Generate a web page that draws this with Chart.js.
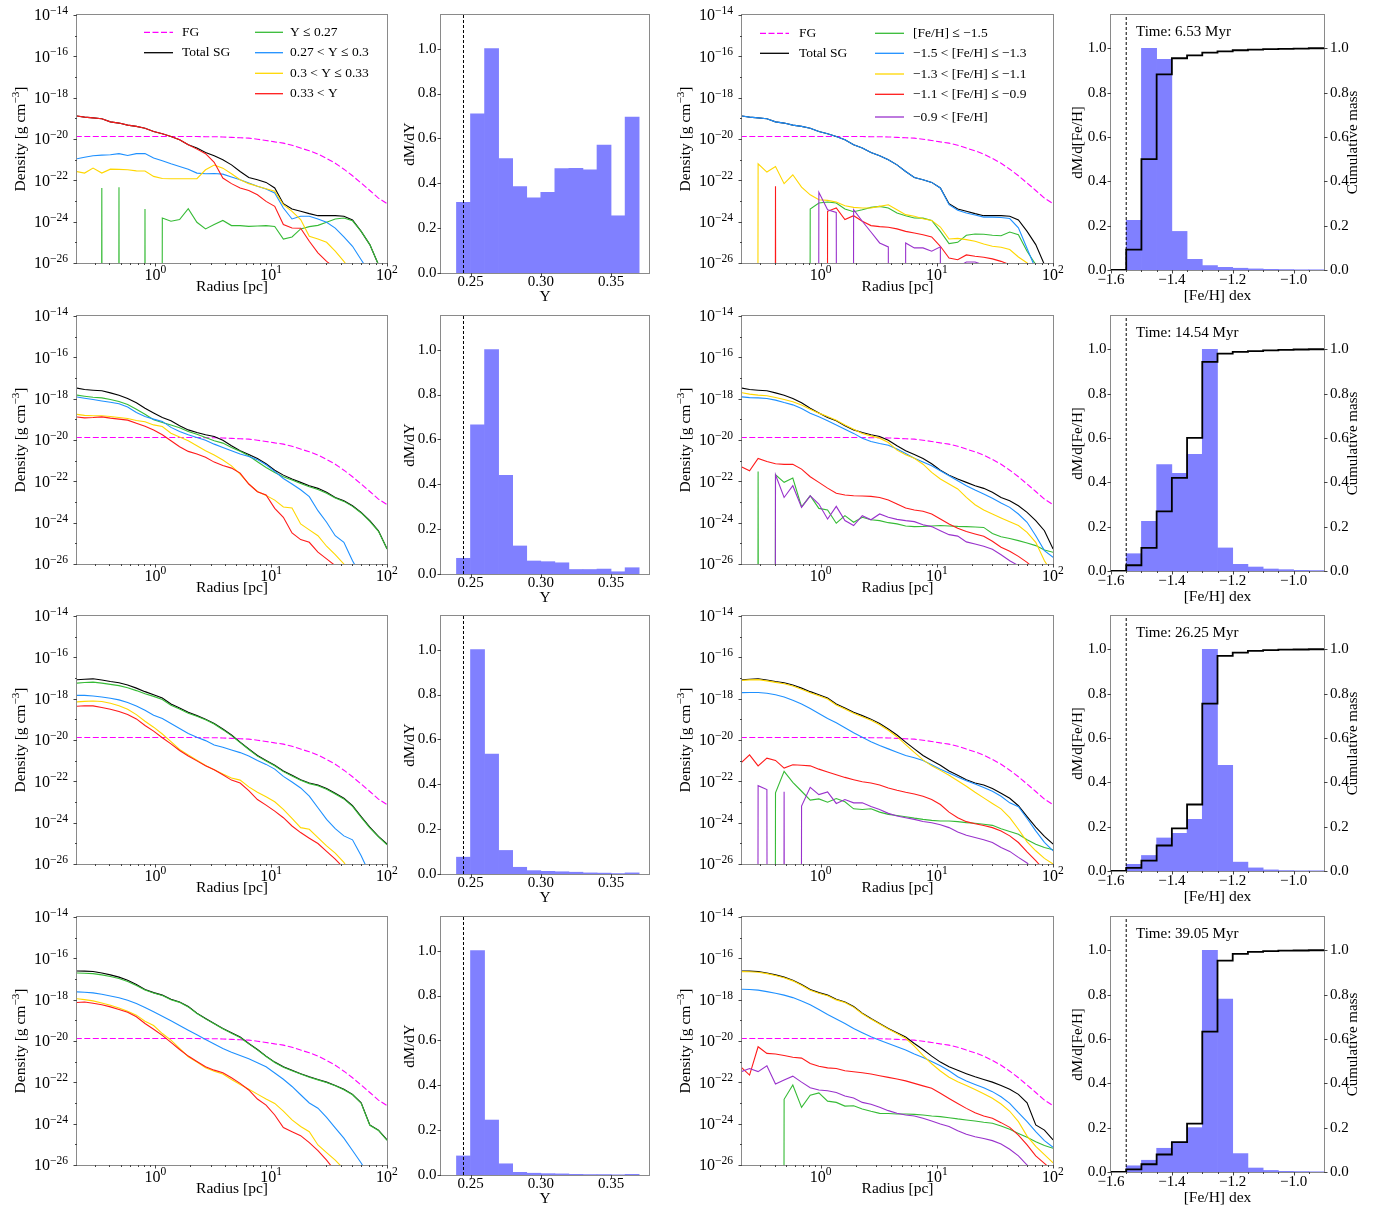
<!DOCTYPE html>
<html>
<head>
<meta charset="utf-8">
<title>Density profiles and abundance distributions</title>
<script src="https://cdn.jsdelivr.net/npm/chart.js@4.4.1/dist/chart.umd.min.js"></script>
<style>
html,body{margin:0;padding:0;background:#ffffff;}
body{position:relative;width:1384px;height:1209px;overflow:hidden;}
canvas{position:absolute;}
</style>
</head>
<body>
<script>
// ======================= DATA =======================
const TIMES = ['6.53', '14.54', '26.25', '39.05'];   // Myr, one per row

// radial bin centres [pc]
const R = [0.205,0.244,0.289,0.344,0.408,0.484,0.575,0.684,0.812,0.964,1.146,1.361,1.616,1.920,2.280,2.708,3.216,3.820,4.536,5.387,6.398,7.598,9.024,10.72,12.73,15.12,17.95,21.32,25.32,30.07,35.71,42.41,50.37,59.82,71.04,84.37,100.2];

// all density series are log10(rho / g cm^-3); null = empty bin (zero density)
const FG = [-19.88,-19.88,-19.88,-19.88,-19.88,-19.88,-19.88,-19.88,-19.88,-19.88,-19.88,-19.88,-19.88,-19.88,-19.88,-19.89,-19.89,-19.90,-19.92,-19.94,-19.96,-20.01,-20.07,-20.14,-20.20,-20.30,-20.44,-20.57,-20.73,-20.94,-21.17,-21.46,-21.78,-22.13,-22.49,-22.86,-23.13];

// ---- row 1 : 6.53 Myr
const TOT_1 = [-18.88,-18.94,-18.98,-19.02,-19.17,-19.23,-19.33,-19.39,-19.48,-19.64,-19.75,-19.88,-20.04,-20.28,-20.44,-20.65,-20.81,-21.00,-21.25,-21.57,-21.86,-21.97,-22.10,-22.37,-23.13,-23.39,-23.50,-23.61,-23.71,-23.71,-23.71,-23.74,-23.92,-24.47,-25.11,-26.08,-27.0];
const YA_1 = [null,null,null,-22.37,null,-22.33,null,null,-23.39,null,-23.82,-23.98,-23.90,-23.37,-24.03,-24.35,-24.14,-23.94,-24.19,-24.19,-24.23,-24.21,-24.19,-24.23,-24.84,-24.74,-24.35,-24.24,-24.18,-24.03,-23.87,-23.82,-23.96,-24.47,-25.11,-26.08,-27.0];
const YB_1 = [-20.97,-20.88,-20.81,-20.78,-20.76,-20.71,-20.80,-20.71,-20.70,-20.92,-21.05,-21.20,-21.33,-21.46,-21.65,-21.68,-21.67,-21.70,-21.84,-21.97,-22.13,-22.29,-22.42,-22.61,-23.34,-23.87,-23.74,-23.74,-23.87,-24.03,-24.31,-24.74,-25.19,-25.84,-26.5,-27.5,-28.0];
const YC_1 = [-21.57,-21.65,-21.41,-21.65,-21.46,-21.47,-21.49,-21.54,-21.55,-21.81,-21.91,-21.92,-21.92,-21.92,-21.92,-21.49,-21.26,-21.41,-21.68,-21.97,-22.16,-22.29,-22.41,-22.53,-23.18,-23.50,-23.90,-24.71,-24.84,-25.00,-25.43,-25.92,-26.5,-27.5,-28,-28,-28];
const YD_1 = [-18.88,-18.94,-18.98,-19.02,-19.17,-19.23,-19.33,-19.39,-19.48,-19.64,-19.75,-19.88,-20.04,-20.28,-20.49,-20.71,-21.13,-21.89,-22.16,-22.37,-22.49,-22.70,-23.02,-23.26,-24.14,-24.31,-24.32,-24.95,-25.51,-25.92,-26.24,-26.6,-27.0,-28,-28,-28,-28];
const FA_1 = [null,null,null,null,null,null,null,null,-23.39,-23.10,-23.05,-23.10,-23.39,-23.52,-23.42,-23.31,-23.26,-23.34,-23.58,-23.71,-23.82,-23.83,-23.94,-24.47,-25.06,-25.00,-24.66,-24.60,-24.61,-24.66,-24.68,-24.50,-24.63,-25.43,-26.08,-27.0,-28];
const FB_1 = [-18.88,-18.94,-18.98,-19.02,-19.17,-19.23,-19.33,-19.39,-19.48,-19.64,-19.75,-19.88,-20.04,-20.28,-20.44,-20.65,-20.81,-21.00,-21.25,-21.57,-21.86,-21.97,-22.10,-22.37,-23.18,-23.45,-23.58,-23.68,-23.78,-23.78,-23.80,-23.85,-24.30,-25.30,-26.30,-27.5,-28];
const FC_1 = [null,null,-21.20,-21.60,-21.33,-22.16,-21.73,-22.33,-22.70,-22.94,-22.97,-23.05,-23.23,-23.31,-23.34,-23.34,-23.26,-23.18,-23.42,-23.66,-23.74,-23.86,-23.94,-24.26,-24.84,-24.81,-24.87,-24.95,-25.08,-25.19,-25.24,-25.35,-25.71,-26.0,-26.8,-28,-28];
const FD_1 = [null,null,null,null,-22.29,null,null,null,null,null,-23.50,-23.34,-23.90,-23.71,-23.98,-24.19,-24.24,-24.27,-24.35,-24.47,-24.55,-24.63,-24.74,-25.19,-25.76,-25.84,-25.61,-25.67,-25.72,-25.80,-25.92,-26.08,-26.6,-28,-28,-28,-28];
const FE_1 = [null,null,null,null,null,null,null,null,null,-22.58,-23.42,-23.55,null,-23.42,-23.98,-24.50,-25.03,-25.22,null,-25.03,-25.27,-25.27,-25.43,-25.22,null,-26.2,-25.95,-25.95,-26.1,null,null,null,null,null,null,null,null];

// ---- row 2 : 14.54 Myr
const TOT_2 = [-17.48,-17.56,-17.59,-17.62,-17.72,-17.83,-17.99,-18.20,-18.46,-18.69,-18.91,-19.07,-19.31,-19.51,-19.64,-19.75,-19.83,-20.01,-20.28,-20.52,-20.70,-20.90,-21.15,-21.46,-21.70,-21.89,-22.05,-22.21,-22.34,-22.53,-22.78,-22.94,-23.18,-23.50,-23.90,-24.39,-25.27];
const YA_2 = [-17.82,-17.88,-17.93,-17.96,-18.04,-18.14,-18.28,-18.51,-18.75,-19.02,-19.15,-19.27,-19.41,-19.59,-19.72,-19.88,-20.04,-20.15,-20.36,-20.55,-20.76,-21.05,-21.33,-21.57,-21.78,-21.94,-22.10,-22.26,-22.39,-22.58,-22.81,-22.97,-23.21,-23.53,-23.94,-24.42,-25.27];
const YB_2 = [-17.91,-17.98,-18.04,-18.11,-18.17,-18.25,-18.40,-18.67,-18.86,-18.99,-19.10,-19.39,-19.59,-19.75,-19.88,-20.01,-20.20,-20.36,-20.52,-20.68,-20.80,-20.95,-21.20,-21.52,-21.86,-22.13,-22.41,-22.74,-23.42,-23.98,-24.63,-24.95,-25.84,-26.6,-28,-28,-28];
const YC_2 = [-18.75,-18.81,-18.83,-18.83,-18.86,-18.91,-18.96,-19.06,-19.12,-19.27,-19.35,-19.67,-19.86,-20.04,-20.28,-20.52,-20.73,-20.97,-21.25,-21.65,-22.12,-22.49,-22.68,-22.91,-23.24,-23.29,-24.06,-24.35,-24.63,-25.14,-25.55,-26.0,-26.8,-28,-28,-28,-28];
const YD_2 = [-18.88,-18.93,-18.91,-18.88,-18.94,-18.99,-19.04,-19.19,-19.33,-19.52,-19.75,-20.04,-20.33,-20.55,-20.68,-20.84,-21.07,-21.23,-21.36,-21.60,-22.13,-22.50,-22.66,-23.31,-23.74,-24.50,-24.82,-24.95,-25.43,-25.75,-26.08,-28,-28,-28,-28,-28,-28];
const FA_2 = [null,null,-21.52,null,-21.68,-22.05,-21.84,-23.23,-22.70,-23.31,-23.39,-24.03,-23.66,-23.98,-23.74,-23.86,-23.90,-24.00,-24.06,-24.16,-24.19,-24.18,-24.16,-24.14,-24.16,-24.18,-24.19,-24.21,-24.23,-24.52,-24.68,-24.77,-24.87,-24.98,-25.11,-25.32,-25.43];
const FB_2 = [-17.91,-17.95,-17.96,-17.99,-18.07,-18.19,-18.30,-18.48,-18.70,-18.88,-19.07,-19.27,-19.48,-19.68,-19.91,-20.07,-20.17,-20.25,-20.44,-20.65,-20.88,-21.07,-21.25,-21.49,-21.73,-21.97,-22.21,-22.42,-22.61,-22.82,-23.05,-23.26,-23.58,-23.98,-24.63,-25.35,-25.68];
const FC_2 = [-17.70,-17.78,-17.83,-17.86,-17.94,-18.04,-18.15,-18.31,-18.51,-18.70,-18.86,-19.04,-19.27,-19.48,-19.69,-19.80,-19.91,-20.12,-20.49,-20.71,-20.88,-21.17,-21.57,-21.89,-22.13,-22.37,-22.78,-23.13,-23.39,-23.58,-23.77,-23.95,-24.14,-24.47,-24.95,-25.84,-26.5];
const FD_2 = [-21.29,-21.49,-20.89,-21.04,-21.15,-21.18,-21.17,-21.41,-21.78,-22.05,-22.33,-22.58,-22.66,-22.70,-22.71,-22.73,-22.78,-22.90,-23.10,-23.29,-23.39,-23.45,-23.58,-23.82,-24.06,-24.27,-24.43,-24.55,-24.66,-24.90,-25.19,-25.38,-25.63,-25.92,-26.3,-28,-28];
const FE_2 = [-21.52,null,null,null,-21.68,-22.78,-22.21,-23.26,-22.70,-23.10,-23.82,-23.21,-23.90,-24.14,-23.66,-23.86,-23.58,-23.74,-23.84,-23.90,-23.95,-24.10,-24.19,-24.39,-24.58,-24.65,-24.93,-25.03,-25.14,-25.29,-25.55,-25.84,-26.08,-26.5,-28,-28,-28];

// ---- row 3 : 26.25 Myr
const TOT_3 = [-17.09,-17.06,-17.04,-17.10,-17.17,-17.23,-17.34,-17.49,-17.66,-17.81,-17.97,-18.26,-18.45,-18.66,-18.82,-18.99,-19.20,-19.47,-19.76,-20.10,-20.43,-20.75,-20.99,-21.22,-21.50,-21.71,-21.92,-22.08,-22.18,-22.35,-22.58,-22.82,-23.18,-23.71,-24.22,-24.66,-25.04];
const YA_3 = [-17.25,-17.22,-17.20,-17.25,-17.31,-17.37,-17.47,-17.61,-17.76,-17.89,-18.04,-18.32,-18.50,-18.71,-18.85,-19.02,-19.23,-19.50,-19.79,-20.13,-20.46,-20.78,-21.02,-21.25,-21.53,-21.74,-21.95,-22.11,-22.21,-22.38,-22.61,-22.85,-23.21,-23.74,-24.25,-24.69,-25.07];
const YB_3 = [-17.84,-17.84,-17.87,-17.92,-17.98,-18.06,-18.19,-18.35,-18.56,-18.80,-18.96,-19.20,-19.44,-19.68,-19.87,-20.03,-20.24,-20.35,-20.48,-20.61,-20.77,-20.99,-21.18,-21.41,-21.76,-22.03,-22.32,-22.72,-23.28,-23.84,-24.29,-24.64,-24.83,-25.60,-26.5,-28,-28];
const YC_3 = [-18.16,-18.13,-18.11,-18.14,-18.22,-18.34,-18.51,-18.77,-19.09,-19.38,-19.71,-20.08,-20.46,-20.72,-20.98,-21.23,-21.44,-21.65,-21.84,-21.94,-22.27,-22.53,-22.75,-22.99,-23.36,-23.79,-24.24,-24.32,-24.72,-25.12,-25.47,-25.92,-26.6,-28,-28,-28,-28];
const YD_3 = [-18.37,-18.34,-18.35,-18.43,-18.51,-18.62,-18.77,-18.98,-19.30,-19.57,-19.89,-20.19,-20.51,-20.77,-21.01,-21.25,-21.44,-21.68,-21.94,-22.08,-22.45,-22.88,-23.15,-23.44,-23.76,-24.16,-24.48,-24.75,-25.01,-25.39,-25.76,-26.2,-28,-28,-28,-28,-28];
const FA_3 = [null,null,null,null,-22.56,-21.52,-22.05,-22.48,-22.91,-22.85,-23.01,-22.83,-22.99,-23.33,-23.36,-23.33,-23.49,-23.60,-23.65,-23.71,-23.78,-23.84,-23.89,-23.92,-23.92,-23.95,-24.00,-24.03,-24.08,-24.13,-24.29,-24.43,-24.56,-24.83,-25.04,-25.20,-25.31];
const FB_3 = [-17.71,-17.70,-17.70,-17.74,-17.81,-17.92,-18.08,-18.26,-18.48,-18.72,-18.96,-19.17,-19.41,-19.65,-19.87,-20.08,-20.27,-20.43,-20.59,-20.75,-20.86,-20.99,-21.20,-21.41,-21.60,-21.79,-21.97,-22.13,-22.30,-22.48,-22.72,-23.04,-23.23,-23.80,-24.40,-24.95,-25.36];
const FC_3 = [-17.12,-17.09,-17.08,-17.14,-17.21,-17.28,-17.39,-17.54,-17.71,-17.86,-18.02,-18.31,-18.50,-18.71,-18.87,-19.04,-19.26,-19.53,-19.84,-20.22,-20.60,-20.96,-21.25,-21.47,-21.71,-21.97,-22.24,-22.53,-22.80,-23.07,-23.33,-23.76,-24.32,-24.93,-25.36,-25.73,-26.0];
const FD_3 = [-21.12,-20.72,-21.25,-20.88,-20.99,-21.36,-21.20,-21.22,-21.25,-21.41,-21.55,-21.68,-21.81,-21.92,-22.02,-22.08,-22.18,-22.32,-22.43,-22.53,-22.61,-22.72,-22.88,-23.12,-23.49,-23.76,-23.95,-24.05,-24.14,-24.24,-24.40,-24.64,-24.96,-25.41,-25.84,-26.3,-28];
const FE_3 = [null,null,-22.21,-22.40,null,-22.51,null,-23.20,-22.29,-22.64,-22.51,-23.07,-22.88,-23.04,-23.04,-23.22,-23.36,-23.55,-23.68,-23.76,-23.84,-23.94,-24.00,-24.10,-24.24,-24.45,-24.61,-24.72,-24.83,-24.96,-25.20,-25.39,-25.68,-25.95,-26.4,-28,-28];

// ---- row 4 : 39.05 Myr
const TOT_4 = [-16.61,-16.62,-16.64,-16.71,-16.80,-16.91,-17.06,-17.27,-17.51,-17.66,-17.78,-17.98,-18.11,-18.33,-18.65,-18.91,-19.15,-19.39,-19.60,-19.81,-20.12,-20.41,-20.73,-21.02,-21.25,-21.42,-21.58,-21.73,-21.86,-21.99,-22.15,-22.34,-22.58,-22.99,-24.06,-24.31,-24.79];
const YA_4 = [-16.71,-16.72,-16.74,-16.80,-16.88,-16.98,-17.12,-17.31,-17.53,-17.68,-17.80,-18.00,-18.13,-18.35,-18.67,-18.93,-19.17,-19.41,-19.62,-19.83,-20.14,-20.43,-20.75,-21.04,-21.27,-21.44,-21.60,-21.75,-21.88,-22.01,-22.17,-22.36,-22.60,-23.01,-24.08,-24.33,-24.81];
const YB_4 = [-17.62,-17.64,-17.67,-17.74,-17.82,-17.91,-18.03,-18.19,-18.38,-18.59,-18.80,-19.02,-19.25,-19.48,-19.70,-19.93,-20.15,-20.36,-20.54,-20.70,-20.86,-21.05,-21.25,-21.55,-21.85,-22.20,-22.60,-23.00,-23.25,-23.70,-24.20,-24.70,-25.30,-25.90,-26.6,-28,-28];
const YC_4 = [-17.95,-18.00,-18.06,-18.16,-18.27,-18.40,-18.56,-18.75,-19.04,-19.25,-19.64,-19.96,-20.36,-20.76,-21.02,-21.29,-21.46,-21.60,-21.86,-22.10,-22.33,-22.57,-22.81,-23.02,-23.39,-23.82,-24.14,-24.39,-25.03,-25.40,-25.76,-26.2,-28,-28,-28,-28,-28];
const YD_4 = [-18.14,-18.11,-18.17,-18.25,-18.35,-18.48,-18.61,-18.83,-19.15,-19.43,-19.73,-20.07,-20.41,-20.73,-20.99,-21.25,-21.41,-21.54,-21.78,-22.05,-22.37,-22.81,-23.10,-23.58,-24.19,-24.39,-24.58,-24.92,-25.30,-25.76,-26.3,-28,-28,-28,-28,-28,-28];
const FA_4 = [null,null,null,null,null,-22.82,-22.13,-23.21,-22.62,-22.51,-22.91,-22.97,-23.15,-23.13,-23.29,-23.40,-23.50,-23.51,-23.53,-23.53,-23.55,-23.58,-23.63,-23.66,-23.71,-23.77,-23.82,-23.87,-23.93,-23.98,-24.11,-24.27,-24.47,-24.66,-24.87,-25.06,-25.19];
const FB_4 = [-17.49,-17.51,-17.54,-17.61,-17.69,-17.78,-17.90,-18.06,-18.25,-18.48,-18.72,-18.94,-19.15,-19.39,-19.60,-19.80,-19.96,-20.12,-20.28,-20.44,-20.63,-20.80,-20.99,-21.20,-21.44,-21.73,-21.94,-22.10,-22.26,-22.45,-22.70,-23.02,-23.47,-23.90,-24.38,-24.82,-25.14];
const FC_4 = [-16.64,-16.65,-16.67,-16.74,-16.83,-16.94,-17.09,-17.30,-17.54,-17.69,-17.81,-18.01,-18.14,-18.36,-18.68,-18.94,-19.18,-19.42,-19.64,-19.87,-20.25,-20.70,-21.10,-21.45,-21.75,-21.97,-22.15,-22.35,-22.55,-22.77,-23.05,-23.40,-23.90,-24.60,-25.10,-25.50,-25.90];
const FD_4 = [-21.25,-21.65,-20.28,-20.60,-20.63,-20.70,-20.79,-20.83,-21.09,-21.22,-21.30,-21.33,-21.44,-21.49,-21.54,-21.60,-21.68,-21.76,-21.84,-21.93,-22.05,-22.17,-22.29,-22.53,-22.78,-23.02,-23.26,-23.47,-23.63,-23.74,-23.95,-24.18,-24.55,-25.03,-25.56,-25.92,-26.3];
const FE_4 = [-21.49,-21.33,-21.48,-21.20,-22.08,-21.89,-21.70,-21.99,-22.26,-22.37,-22.41,-22.49,-22.66,-22.76,-22.97,-23.06,-23.21,-23.37,-23.50,-23.58,-23.63,-23.74,-23.87,-24.02,-24.14,-24.34,-24.51,-24.63,-24.72,-24.82,-24.98,-25.24,-25.56,-26.0,-26.6,-28,-28];

// ---- helium histograms dM/dY (normalised), bins of 0.01 in Y
const Y_EDGES = [0.24,0.25,0.26,0.27,0.28,0.29,0.30,0.31,0.32,0.33,0.34,0.35,0.36,0.37];
const DMDY_1 = [0.315,0.71,1.0,0.51,0.385,0.335,0.36,0.465,0.467,0.46,0.57,0.255,0.695];
const DMDY_2 = [0.07,0.665,1.0,0.44,0.125,0.058,0.055,0.05,0.02,0.02,0.022,0.01,0.028];
const DMDY_3 = [0.075,1.0,0.535,0.105,0.03,0.015,0.012,0.01,0.008,0.005,0.004,0.002,0.005];
const DMDY_4 = [0.085,1.0,0.245,0.05,0.012,0.008,0.006,0.005,0.003,0.002,0.002,0.001,0.003];
const Y_PRIMORDIAL = 0.245;

// ---- metallicity histograms dM/d[Fe/H] and cumulative mass, bins of 0.05 dex
const FE_EDGES = [-1.55,-1.5,-1.45,-1.4,-1.35,-1.3,-1.25,-1.2,-1.15,-1.1,-1.05,-1.0,-0.95,-0.9];
const DMDFE_1 = [0.224,1.0,0.95,0.174,0.048,0.02,0.012,0.008,0.005,0.003,0.002,0.001,0.001];
const CUM_1   = [0.092,0.5,0.882,0.955,0.968,0.98,0.986,0.991,0.994,0.996,0.997,0.998,1.0];
const DMDFE_2 = [0.078,0.224,0.48,0.44,0.526,1.0,0.104,0.03,0.018,0.009,0.006,0.003,0.002];
const CUM_2   = [0.026,0.104,0.269,0.42,0.60,0.943,0.98,0.988,0.992,0.995,0.997,0.999,1.0];
const DMDFE_3 = [0.03,0.07,0.149,0.17,0.233,1.0,0.476,0.04,0.014,0.005,0.002,0.001,0.001];
const CUM_3   = [0.014,0.047,0.115,0.192,0.30,0.755,0.97,0.985,0.993,0.996,0.998,0.999,1.0];
const DMDFE_4 = [0.028,0.053,0.107,0.135,0.20,1.0,0.78,0.083,0.018,0.007,0.003,0.002,0.001];
const CUM_4   = [0.012,0.035,0.079,0.135,0.218,0.633,0.953,0.984,0.993,0.996,0.998,0.999,1.0];
const FE_START = -1.6;
const FE_INITIAL = -1.55;

// ---- ticks
const R_TICKS = [1, 10, 100];
const R_TICK_EXP = ['0', '1', '2'];
const R_MINOR = [0.3,0.4,0.5,0.6,0.7,0.8,0.9,2,3,4,5,6,7,8,9,20,30,40,50,60,70,80,90];
const RHO_TICK_EXP = [-14,-16,-18,-20,-22,-24,-26];
const RHO_MINOR_EXP = [-15,-17,-19,-21,-23,-25];
const Y_TICKS = [0.25, 0.30, 0.35];
const FRAC_TICKS = [0, 0.2, 0.4, 0.6, 0.8, 1.0];
const FE_TICKS = [-1.6, -1.4, -1.2, -1.0];
const FE_MINOR = [-1.55,-1.5,-1.45,-1.35,-1.3,-1.25,-1.15,-1.1,-1.05,-0.95];

// ---- legend labels
const LEG_Y = ['Y \u2264 0.27', '0.27 < Y \u2264 0.3', '0.3 < Y \u2264 0.33', '0.33 < Y'];
const LEG_FE = ['[Fe/H] \u2264 \u22121.5', '\u22121.5 < [Fe/H] \u2264 \u22121.3', '\u22121.3 < [Fe/H] \u2264 \u22121.1', '\u22121.1 < [Fe/H] \u2264 \u22120.9', '\u22120.9 < [Fe/H]'];

// ======================= STYLE / LAYOUT =======================
const C = {fg:'#ff00ff', tot:'#000000', g:'#36bb36', b:'#1e90ff', y:'#ffd700', r:'#ff1a1a', p:'#9932cc', hist:'#8080ff', frame:'#8a8a8a', tick:'#444444'};
const FONT = '"Liberation Serif", "Times New Roman", serif';
const SUP = 0.72;
const MINUS = '\u2212';
const ROW_TOP = [15, 316, 616, 917];
const G = {
  d1: {l:77,   w:310, h:248, bl:0,    bw:410},
  h2: {l:441,  w:208, h:258, bl:395,  bw:275},
  d3: {l:742,  w:311, h:248, bl:668,  bw:405},
  h4: {l:1111, w:213, h:255, bl:1062, bw:318}
};
const BOX_H = 330;
const ZERO = 1e-300;   // empty bins plotted far below the axis (log scale)

// ======================= HELPERS =======================
function setFont(ctx, s){ ctx.font = s + 'px ' + FONT; }
function richW(ctx, parts, size){ let w = 0; for (const p of parts){ setFont(ctx, p[1] ? size*SUP : size); w += ctx.measureText(p[0]).width; } return w; }
function rich(ctx, parts, x, y, size, align, rise){
  const w = richW(ctx, parts, size);
  let cx = align === 'center' ? x - w/2 : (align === 'right' ? x - w : x);
  ctx.textAlign = 'left'; ctx.textBaseline = 'middle';
  for (const p of parts){ setFont(ctx, p[1] ? size*SUP : size); ctx.fillText(p[0], cx, p[1] ? y - rise : y); cx += ctx.measureText(p[0]).width; }
}
function richRot(ctx, parts, x, y, size, rise){
  ctx.save(); ctx.translate(x, y); ctx.rotate(-Math.PI/2); rich(ctx, parts, 0, 0, size, 'center', rise); ctx.restore();
}
function fmt(v, d){ return v.toFixed(d).replace('-', MINUS); }

const deco = {
  id: 'deco',
  afterDatasetsDraw(chart){
    const o = chart.options.plugins.deco; if (!o) return;
    const ctx = chart.ctx, a = chart.chartArea;
    ctx.save();
    ctx.setLineDash([]);
    // frame
    ctx.strokeStyle = C.frame; ctx.lineWidth = 1;
    ctx.strokeRect(a.left - 0.5, a.top - 0.5, a.right - a.left + 1, a.bottom - a.top + 1);
    // tick marks
    ctx.strokeStyle = C.tick;
    for (const t of o.ticks){
      const s = chart.scales[t.id];
      const draw = (vals, len) => { for (const v of vals){
        const p = Math.round(s.getPixelForValue(v)) + 0.5;
        ctx.beginPath();
        if (t.side === 'bottom'){ ctx.moveTo(p, a.bottom); ctx.lineTo(p, a.bottom + len); }
        else if (t.side === 'left'){ ctx.moveTo(a.left, p); ctx.lineTo(a.left - len, p); }
        else { ctx.moveTo(a.right, p); ctx.lineTo(a.right + len, p); }
        ctx.stroke();
      }};
      draw(t.major, 3.5); draw(t.minor || [], 2);
    }
    // tick labels
    ctx.fillStyle = '#000';
    for (const L of o.labels){
      const s = chart.scales[L.id];
      L.items.forEach(it => {
        const p = s.getPixelForValue(it.v);
        if (L.side === 'bottom') rich(ctx, it.parts, p, a.bottom + L.gap, L.size, 'center', L.rise || 0);
        else if (L.side === 'left') rich(ctx, it.parts, a.left - L.gap, p + (L.dy || 0), L.size, 'right', L.rise || 0);
        else rich(ctx, it.parts, a.right + L.gap, p, L.size, 'left', L.rise || 0);
      });
    }
    // axis titles and free text
    for (const T of o.texts){
      const x = T.x - o.ox, y = T.y - o.oy;
      if (T.rot) richRot(ctx, T.parts, x, y, T.size, T.rise || 0);
      else rich(ctx, T.parts, x, y, T.size, T.align || 'center', T.rise || 0);
    }
    // legend
    for (const e of (o.legend || [])){
      ctx.strokeStyle = e.c; ctx.lineWidth = 1.3; ctx.setLineDash(e.d || []);
      ctx.beginPath(); ctx.moveTo(e.x1 - o.ox, e.y - o.oy); ctx.lineTo(e.x2 - o.ox, e.y - o.oy); ctx.stroke();
      ctx.setLineDash([]);
      rich(ctx, [[e.t, 0]], e.tx - o.ox, e.y - o.oy, 13.5, 'left', 0);
    }
    ctx.restore();
  }
};

function makeChart(g, row, cfg){
  const plot = {l:g.l, t:ROW_TOP[row], w:g.w, h:g.h};
  const box = {l:g.bl, t:ROW_TOP[row] - 15, w:g.bw, h:BOX_H};
  const cv = document.createElement('canvas');
  cv.width = box.w; cv.height = box.h;
  cv.style.left = box.l + 'px'; cv.style.top = box.t + 'px';
  cv.style.width = box.w + 'px'; cv.style.height = box.h + 'px';
  document.body.appendChild(cv);
  const padding = {left: plot.l - box.l, top: plot.t - box.t, right: box.l + box.w - plot.l - plot.w, bottom: box.t + box.h - plot.t - plot.h};
  cfg.deco.ox = box.l; cfg.deco.oy = box.t;
  return new Chart(cv, {
    type: cfg.type,
    data: {datasets: cfg.datasets},
    options: {
      responsive: false, animation: false, devicePixelRatio: 1, events: [],
      layout: {padding},
      plugins: {legend: {display: false}, tooltip: {enabled: false}, deco: cfg.deco},
      scales: cfg.scales
    },
    plugins: [deco]
  });
}

function lineDS(vals, color, order, dash, width){
  return {type:'line', data: R.map((r, k) => ({x: r, y: vals[k] === null ? ZERO : Math.pow(10, vals[k])})),
    borderColor: color, borderWidth: width || 1.1, borderDash: dash || [], pointRadius: 0, fill: false, order: order};
}

function densityPanel(row, col, comps, legend){
  const g = col === 0 ? G.d1 : G.d3;
  const plot = {l:g.l, t:ROW_TOP[row], w:g.w, h:g.h};
  const all = [{v:FG, c:C.fg, d:[6,2.5]}, {v:comps.tot, c:C.tot}].concat(comps.list);
  const n = all.length;
  const datasets = all.map((s, i) => lineDS(s.v, s.c, n - i, s.d));
  const cx = plot.l + plot.w/2, cy = plot.t + plot.h/2;
  const texts = [
    {parts:[['Density [g cm',0],[MINUS + '3',1],[']',0]], x: plot.l - 56, y: cy, size: 15.5, rot: true, rise: 5},
    {parts:[['Radius [pc]',0]], x: cx, y: plot.t + plot.h + 24, size: 15.5}
  ];
  makeChart(g, row, {
    type: 'line', datasets,
    scales: {
      x: {type:'logarithmic', min:0.21, max:100, display:false},
      y: {type:'logarithmic', min:1e-26, max:1e-14, display:false}
    },
    deco: {
      ticks: [
        {id:'x', side:'bottom', major:R_TICKS, minor:R_MINOR},
        {id:'y', side:'left', major:RHO_TICK_EXP.map(e => Math.pow(10, e)), minor:RHO_MINOR_EXP.map(e => Math.pow(10, e))}
      ],
      labels: [
        {id:'x', side:'bottom', gap:12.5, size:16, rise:6, items: R_TICKS.map((v, i) => ({v, parts:[['10',0],[R_TICK_EXP[i],1]]}))},
        {id:'y', side:'left', gap:9, dy:1, size:16, rise:5, items: RHO_TICK_EXP.map(e => ({v:Math.pow(10, e), parts:[['10',0],[MINUS + Math.abs(e),1]]}))}
      ],
      texts, legend
    }
  });
}

function yHistPanel(row, vals){
  const g = G.h2;
  const plot = {l:g.l, t:ROW_TOP[row], w:g.w, h:g.h};
  const centres = vals.map((v, i) => (Y_EDGES[i] + Y_EDGES[i+1]) / 2);
  const datasets = [
    {type:'line', data:[{x:Y_PRIMORDIAL, y:0}, {x:Y_PRIMORDIAL, y:1.15}], borderColor:'#000', borderWidth:1, borderDash:[3,2], pointRadius:0, order:0},
    {type:'bar', data: centres.map((c, i) => ({x:c, y:vals[i]})), backgroundColor:C.hist, borderWidth:0, barPercentage:1, categoryPercentage:1, order:1}
  ];
  const cx = plot.l + plot.w/2, cy = plot.t + plot.h/2;
  makeChart(g, row, {
    type: 'bar', datasets,
    scales: {
      x: {type:'linear', min:0.229, max:0.377, display:false, offset:false},
      y: {type:'linear', min:0, max:1.15, display:false}
    },
    deco: {
      ticks: [
        {id:'x', side:'bottom', major:Y_TICKS},
        {id:'y', side:'left', major:FRAC_TICKS}
      ],
      labels: [
        {id:'x', side:'bottom', gap:9.5, size:15, items: Y_TICKS.map(v => ({v, parts:[[fmt(v, 2),0]]}))},
        {id:'y', side:'left', gap:4.5, size:15, items: FRAC_TICKS.map(v => ({v, parts:[[fmt(v, 1),0]]}))}
      ],
      texts: [
        {parts:[['dM/dY',0]], x: plot.l - 31, y: cy, size: 15, rot: true},
        {parts:[['Y',0]], x: cx, y: plot.t + plot.h + 23.5, size: 15.5}
      ]
    }
  });
}

function feHistPanel(row, vals, cum){
  const g = G.h4;
  const plot = {l:g.l, t:ROW_TOP[row], w:g.w, h:g.h};
  const centres = vals.map((v, i) => (FE_EDGES[i] + FE_EDGES[i+1]) / 2);
  const cumX = [FE_START].concat(FE_EDGES);
  const cumY = [0].concat(cum, [cum[cum.length - 1]]);
  const datasets = [
    {type:'line', data: cumX.map((x, i) => ({x, y:cumY[i]})), yAxisID:'y2', stepped:'before', borderColor:'#000', borderWidth:1.8, pointRadius:0, fill:false, order:0},
    {type:'line', data:[{x:FE_INITIAL, y:0}, {x:FE_INITIAL, y:1.15}], borderColor:'#000', borderWidth:1, borderDash:[3,2], pointRadius:0, order:1},
    {type:'bar', data: centres.map((c, i) => ({x:c, y:vals[i]})), backgroundColor:C.hist, borderWidth:0, barPercentage:1, categoryPercentage:1, order:2}
  ];
  const cx = plot.l + plot.w/2, cy = plot.t + plot.h/2;
  makeChart(g, row, {
    type: 'bar', datasets,
    scales: {
      x: {type:'linear', min:-1.6, max:-0.9, display:false, offset:false},
      y: {type:'linear', min:0, max:1.15, display:false},
      y2: {type:'linear', position:'right', min:0, max:1.15, display:false}
    },
    deco: {
      ticks: [
        {id:'x', side:'bottom', major:FE_TICKS, minor:FE_MINOR},
        {id:'y', side:'left', major:FRAC_TICKS},
        {id:'y2', side:'right', major:FRAC_TICKS}
      ],
      labels: [
        {id:'x', side:'bottom', gap:10.5, size:15, items: FE_TICKS.map(v => ({v, parts:[[fmt(v, 1),0]]}))},
        {id:'y', side:'left', gap:4.5, size:15, items: FRAC_TICKS.map(v => ({v, parts:[[fmt(v, 1),0]]}))},
        {id:'y2', side:'right', gap:6, size:15, items: FRAC_TICKS.map(v => ({v, parts:[[fmt(v, 1),0]]}))}
      ],
      texts: [
        {parts:[['dM/d[Fe/H]',0]], x: plot.l - 33, y: cy, size: 15, rot: true},
        {parts:[['[Fe/H] dex',0]], x: cx, y: plot.t + plot.h + 25.5, size: 15.5},
        {parts:[['Cumulative mass',0]], x: plot.l + plot.w + 29, y: cy, size: 15, rot: true},
        {parts:[['Time: ' + TIMES[row] + ' Myr',0]], x: plot.l + 25, y: plot.t + 17.5, size: 15, align: 'left'}
      ]
    }
  });
}

// ======================= BUILD =======================
const ROWS_Y = [
  {tot:TOT_1, a:YA_1, b:YB_1, c:YC_1, d:YD_1},
  {tot:TOT_2, a:YA_2, b:YB_2, c:YC_2, d:YD_2},
  {tot:TOT_3, a:YA_3, b:YB_3, c:YC_3, d:YD_3},
  {tot:TOT_4, a:YA_4, b:YB_4, c:YC_4, d:YD_4}
];
const ROWS_FE = [
  {a:FA_1, b:FB_1, c:FC_1, d:FD_1, e:FE_1},
  {a:FA_2, b:FB_2, c:FC_2, d:FD_2, e:FE_2},
  {a:FA_3, b:FB_3, c:FC_3, d:FD_3, e:FE_3},
  {a:FA_4, b:FB_4, c:FC_4, d:FD_4, e:FE_4}
];
const DMDY = [DMDY_1, DMDY_2, DMDY_3, DMDY_4];
const DMDFE = [DMDFE_1, DMDFE_2, DMDFE_3, DMDFE_4];
const CUM = [CUM_1, CUM_2, CUM_3, CUM_4];

const legY = [
  {x1:144, x2:173, y:32.3, c:C.fg, d:[6,2.5], t:'FG', tx:182},
  {x1:144, x2:173, y:52.7, c:C.tot, t:'Total SG', tx:182},
  {x1:255, x2:283, y:32.3, c:C.g, t:LEG_Y[0], tx:290},
  {x1:255, x2:283, y:52.7, c:C.b, t:LEG_Y[1], tx:290},
  {x1:255, x2:283, y:73.3, c:C.y, t:LEG_Y[2], tx:290},
  {x1:255, x2:283, y:93.7, c:C.r, t:LEG_Y[3], tx:290}
];
const legFe = [
  {x1:760, x2:789, y:33.3, c:C.fg, d:[6,2.5], t:'FG', tx:799},
  {x1:760, x2:789, y:53.3, c:C.tot, t:'Total SG', tx:799},
  {x1:875, x2:904, y:33.3, c:C.g, t:LEG_FE[0], tx:913},
  {x1:875, x2:904, y:53.3, c:C.b, t:LEG_FE[1], tx:913},
  {x1:875, x2:904, y:74.0, c:C.y, t:LEG_FE[2], tx:913},
  {x1:875, x2:904, y:94.3, c:C.r, t:LEG_FE[3], tx:913},
  {x1:875, x2:904, y:117.0, c:C.p, t:LEG_FE[4], tx:913}
];

for (let row = 0; row < 4; row++){
  const ry = ROWS_Y[row], rf = ROWS_FE[row];
  densityPanel(row, 0, {tot: ry.tot, list: [
    {v:ry.a, c:C.g}, {v:ry.b, c:C.b}, {v:ry.c, c:C.y}, {v:ry.d, c:C.r}
  ]}, row === 0 ? legY : []);
  yHistPanel(row, DMDY[row]);
  densityPanel(row, 1, {tot: ry.tot, list: [
    {v:rf.a, c:C.g}, {v:rf.b, c:C.b}, {v:rf.c, c:C.y}, {v:rf.d, c:C.r}, {v:rf.e, c:C.p}
  ]}, row === 0 ? legFe : []);
  feHistPanel(row, DMDFE[row], CUM[row]);
}
</script>
</body>
</html>
